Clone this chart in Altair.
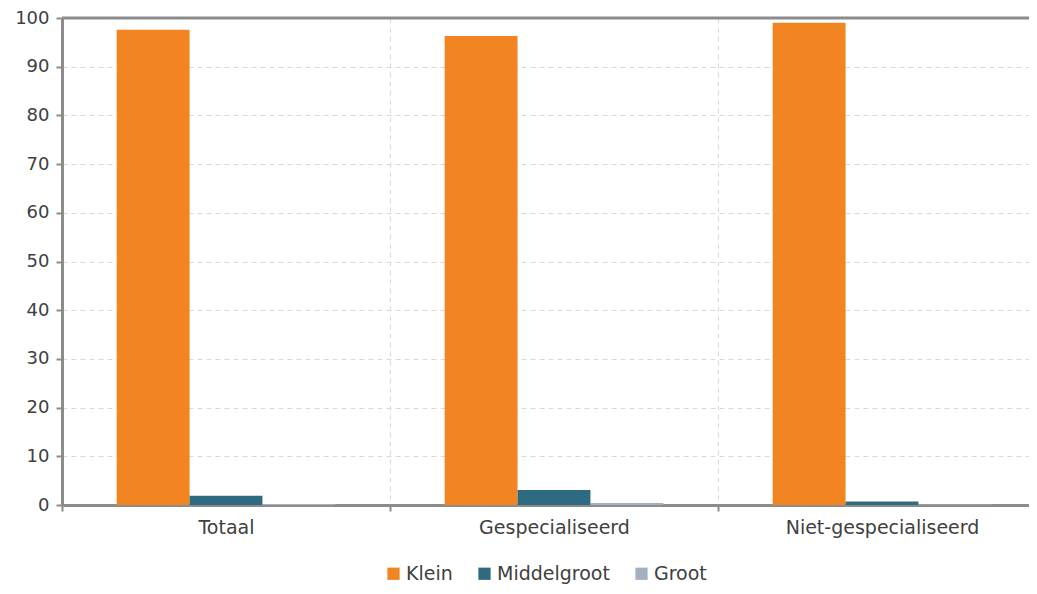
import altair as alt
import pandas as pd

categories = ["Totaal", "Gespecialiseerd", "Niet-gespecialiseerd"]
series = ["Klein", "Middelgroot", "Groot"]
klein = [97.6, 96.3, 99.0]
middelgroot = [1.9, 3.1, 0.7]
groot = [0.2, 0.4, 0.1]
colors = ["#F28522", "#2E6B80", "#A5B0BE"]

rows = []
for i, c in enumerate(categories):
    for s, vals in zip(series, [klein, middelgroot, groot]):
        rows.append({"cat": c, "serie": s, "value": vals[i]})
df = pd.DataFrame(rows)

FONT = "DejaVu Sans"
TXT = "#404040"
AX = "#8C8C8C"

bars = alt.Chart(df).mark_bar().encode(
    x=alt.X("cat:N", sort=categories, title=None,
            scale=alt.Scale(paddingInner=0, paddingOuter=0, range=[0, 984]),
            axis=alt.Axis(labelAngle=0, labelFontSize=19, labelColor=TXT, labelFont=FONT,
                          labelLimit=500,
                          domainColor=AX, domainWidth=3, tickColor=AX, tickWidth=2, tickSize=6,
                          tickBand="extent", grid=True, gridDash=[5, 4], gridColor="#D9D9D9",
                          gridWidth=1, labelPadding=7)),
    xOffset=alt.XOffset("serie:N", sort=series,
                        scale=alt.Scale(paddingOuter=0.75, paddingInner=0)),
    y=alt.Y("value:Q", title=None,
            scale=alt.Scale(domain=[0, 100], nice=False),
            axis=alt.Axis(values=list(range(0, 101, 10)), labelFontSize=18, labelColor=TXT,
                          labelFont=FONT, domainColor=AX, domainWidth=3, tickColor=AX,
                          tickWidth=2, tickSize=6, grid=True, gridDash=[5, 4],
                          gridColor="#D9D9D9", gridWidth=1, labelPadding=7)),
    color=alt.Color("serie:N", sort=series, title=None,
                    scale=alt.Scale(domain=series, range=colors),
                    legend=alt.Legend(orient="none", legendX=322, legendY=546,
                                      direction="horizontal", symbolType="square",
                                      symbolSize=150, symbolStrokeWidth=0,
                                      labelFontSize=19, labelFont=FONT, labelColor=TXT,
                                      columnPadding=22, labelOffset=3)),
)

top = alt.Chart(pd.DataFrame({"y": [100]})).mark_rule(color=AX, strokeWidth=3).encode(
    y=alt.Y("y:Q")
)

chart = alt.layer(bars, top).properties(
    width=967, height=487,
    padding={"left": 54, "top": 10, "right": 0, "bottom": 81},
    autosize=alt.AutoSizeParams(type="none"),
).configure(font=FONT).configure_view(stroke=None)

chart.save("out.html", embed_options={"renderer": "svg", "actions": False})
